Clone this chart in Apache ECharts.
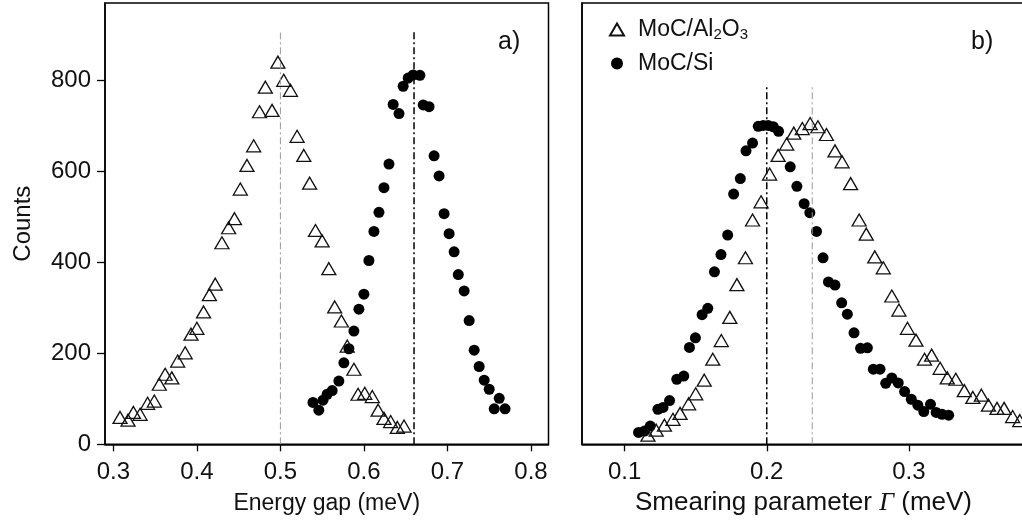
<!DOCTYPE html>
<html><head><meta charset="utf-8">
<script src="https://cdn.jsdelivr.net/npm/echarts@6/dist/echarts.min.js"></script>
<style>html,body{margin:0;padding:0;background:#fff}#c{width:1022px;height:528px}</style>
</head><body><div id="c"></div>
<script>
// Panel a) Energy gap histogram
const gapAlX = [0.308,0.3176,0.324,0.332,0.341,0.349,0.355,0.362,0.370,0.377,0.386,0.393,0.400,0.408,0.415,0.422,0.430,0.438,0.445,0.452,0.460,0.468,0.475,0.482,0.490,0.497,0.504,0.512,0.520,0.528,0.535,0.542,0.550,0.558,0.565,0.573,0.580,0.588,0.593,0.601,0.610,0.617,0.624,0.632,0.640,0.648];
const gapAlY = [59,53,70,66,90,95,132,154,146,183,201,242,255,291,329,352,443,476,496,561,613,656,731,785,734,840,800,778,677,635,574,470,447,386,302,271,216,165,110,112,105,75,57,50,37,40];
const gapSiX = [0.539,0.546,0.551,0.556,0.562,0.570,0.576,0.582,0.588,0.594,0.600,0.606,0.612,0.618,0.624,0.630,0.635,0.642,0.647,0.653,0.659,0.667,0.671,0.678,0.684,0.690,0.696,0.702,0.708,0.713,0.720,0.726,0.732,0.738,0.744,0.750,0.756,0.762,0.769];
const gapSiY = [92,75,97,110,118,139,179,210,249,297,330,404,468,510,564,616,747,727,787,805,812,811,746,742,634,590,507,463,423,373,337,272,207,171,141,121,78,101,78];
// Panel b) Smearing parameter histogram
const gamAlX = [0.1164,0.1222,0.128,0.134,0.139,0.145,0.150,0.156,0.162,0.168,0.174,0.179,0.185,0.190,0.196,0.202,0.208,0.214,0.219,0.225,0.2305,0.236,0.242,0.248,0.253,0.259,0.265,0.270,0.276,0.282,0.288,0.293,0.299,0.305,0.311,0.316,0.322,0.327,0.333,0.339,0.345,0.351,0.356,0.362,0.367,0.373,0.378];
const gamAlY = [20,31,42,55,68,89,111,141,187,228,279,351,410,493,533,594,635,660,684,694,705,698,681,645,621,573,493,462,412,388,326,295,255,229,187,196,167,146,143,118,103,108,86,79,79,61,52];
const gamSiX = [0.1098,0.114,0.118,0.1234,0.127,0.1316,0.1367,0.1416,0.1456,0.1498,0.1545,0.1585,0.1632,0.1678,0.1725,0.1767,0.1814,0.1854,0.190,0.194,0.1975,0.201,0.2046,0.2083,0.2165,0.2212,0.2263,0.2303,0.235,0.2396,0.2434,0.248,0.2527,0.2567,0.2614,0.266,0.2708,0.275,0.2797,0.2837,0.288,0.2925,0.297,0.3017,0.3063,0.3105,0.3152,0.3192,0.3234,0.328];
const gamSiY = [26,29,40,77,81,96,143,150,213,234,285,299,379,417,460,550,584,645,662,699,701,701,698,688,610,567,529,509,468,410,357,350,311,286,245,211,212,165,165,134,146,135,116,99,86,72,88,70,66,64];
// Tick labels
const gapTicks = [0.3,0.4,0.5,0.6,0.7,0.8];
const gamTicks = [0.1,0.2,0.3];
const countTicks = [0,200,400,600,800];
// Dash-dot reference lines (position, top)
const gapLineAl = [0.5, 905];
const gapLineSi = [0.66, 908];
const gamLineSi = [0.2, 787];
const gamLineAl = [0.232, 786];
const seriesNames = ['MoC/Al2O3','MoC/Si'];

const FONT = 'Liberation Sans, Arial, sans-serif';
const zip = (xs, ys) => xs.map((x, i) => [x, ys[i]]);
const vline = (l) => [[l[0], 0], [l[0], l[1]]];

const chart = echarts.init(document.getElementById('c'), null, {renderer: 'canvas'});
const axisLineStyle = {color: '#000', width: 1.5};
function xAxisCfg(grid, min, max, ticks, name, nameStyle, gap) {
  return {
    type: 'value', gridIndex: grid, min: min, max: max,
    axisLine: {show: true, onZero: false, lineStyle: axisLineStyle},
    axisTick: {show: true, inside: false, length: 7, customValues: ticks, lineStyle: {color: '#000', width: 1.3}},
    axisLabel: {customValues: ticks, formatter: v => v.toFixed(1), fontSize: 24, color: '#111', fontFamily: FONT, margin: 16},
    splitLine: {show: false},
    name: name, nameLocation: 'middle', nameGap: gap,
    nameTextStyle: nameStyle
  };
}
const option = {
  animation: false,
  backgroundColor: '#fff',
  grid: [
    {left: 105, top: 3, width: 443.5, height: 441.3, show: true, borderColor: '#000', borderWidth: 1.5, containLabel: false, outerBoundsMode: 'none'},
    {left: 582, top: 3, width: 469, height: 441.3, show: true, borderColor: '#000', borderWidth: 1.5, containLabel: false, outerBoundsMode: 'none'}
  ],
  xAxis: [
    xAxisCfg(0, 0.29, 0.821, gapTicks, 'Energy gap (meV)', {fontSize: 23, color: '#111', fontFamily: FONT}, 48),
    xAxisCfg(1, 0.07, 0.4, gamTicks, 'Smearing parameter {g|Γ} (meV)', {
      fontSize: 26, color: '#111', fontFamily: FONT, padding: [0, 26, 0, 0],
      rich: {g: {fontSize: 26, fontStyle: 'italic', fontFamily: 'Liberation Serif, Times New Roman, serif', color: '#111'}}
    }, 46)
  ],
  yAxis: [
    {
      type: 'value', gridIndex: 0, min: 0, max: 970,
      axisLine: {show: true, onZero: false, lineStyle: axisLineStyle},
      axisTick: {show: true, length: 8, customValues: countTicks, lineStyle: {color: '#000', width: 1.3}},
      axisLabel: {customValues: countTicks, fontSize: 24, color: '#111', fontFamily: FONT, margin: 14},
      splitLine: {show: false},
      name: 'Counts', nameLocation: 'middle', nameGap: 70,
      nameTextStyle: {fontSize: 24, color: '#111', fontFamily: FONT}
    },
    {
      type: 'value', gridIndex: 1, min: 0, max: 970,
      axisLine: {show: true, onZero: false, lineStyle: axisLineStyle},
      axisTick: {show: false}, axisLabel: {show: false}, splitLine: {show: false}
    }
  ],
  legend: {
    data: seriesNames,
    orient: 'vertical', left: 604, top: 9,
    itemWidth: 14, itemHeight: 12, itemGap: 10,
    formatter: n => n === 'MoC/Al2O3' ? '{p|}{n|MoC/Al}{s|2}{n|O}{s|3}' : '{p|}{n|MoC/Si}',
    textStyle: {
      color: '#111', fontFamily: FONT,
      rich: {
        p: {width: 9, fontSize: 23, lineHeight: 25},
        n: {fontSize: 23, fontFamily: FONT, color: '#111', lineHeight: 25},
        s: {fontSize: 15, fontFamily: FONT, color: '#111', verticalAlign: 'bottom', lineHeight: 15, padding: [13, 0, 0, 0]}
      }
    }
  },
  graphic: [
    {type: 'text', left: 498, top: 30, style: {text: 'a)', fontSize: 25, fontFamily: FONT, fill: '#111'}},
    {type: 'text', left: 971, top: 30, style: {text: 'b)', fontSize: 25, fontFamily: FONT, fill: '#111'}}
  ],
  series: [
    {type: 'line', xAxisIndex: 0, yAxisIndex: 0, data: vline(gapLineAl), symbol: 'none', silent: true,
      lineStyle: {color: '#999', width: 1, type: [7, 3, 2, 3]}},
    {type: 'line', xAxisIndex: 0, yAxisIndex: 0, data: vline(gapLineSi), symbol: 'none', silent: true,
      lineStyle: {color: '#000', width: 1.5, type: [7, 3, 2, 3]}},
    {type: 'line', xAxisIndex: 1, yAxisIndex: 1, data: vline(gamLineSi), symbol: 'none', silent: true,
      lineStyle: {color: '#000', width: 1.5, type: [7, 3, 2, 3]}},
    {type: 'line', xAxisIndex: 1, yAxisIndex: 1, data: vline(gamLineAl), symbol: 'none', silent: true,
      lineStyle: {color: '#999', width: 1, type: [7, 3, 2, 3]}},
    {name: seriesNames[1], type: 'scatter', xAxisIndex: 0, yAxisIndex: 0, data: zip(gapSiX, gapSiY),
      symbol: 'circle', symbolSize: 11, itemStyle: {color: '#000', opacity: 1}},
    {name: seriesNames[0], type: 'scatter', xAxisIndex: 0, yAxisIndex: 0, data: zip(gapAlX, gapAlY),
      symbol: 'triangle', symbolSize: [14, 12], itemStyle: {color: 'rgba(255,255,255,0)', borderColor: '#111', borderWidth: 1.3, opacity: 1}},
    {name: seriesNames[1], type: 'scatter', xAxisIndex: 1, yAxisIndex: 1, data: zip(gamSiX, gamSiY),
      symbol: 'circle', symbolSize: 11, itemStyle: {color: '#000', opacity: 1}},
    {name: seriesNames[0], type: 'scatter', xAxisIndex: 1, yAxisIndex: 1, data: zip(gamAlX, gamAlY),
      symbol: 'triangle', symbolSize: [14, 12], itemStyle: {color: 'rgba(255,255,255,0)', borderColor: '#111', borderWidth: 1.3, opacity: 1}}
  ]
};
chart.setOption(option);
</script>
</body></html>
